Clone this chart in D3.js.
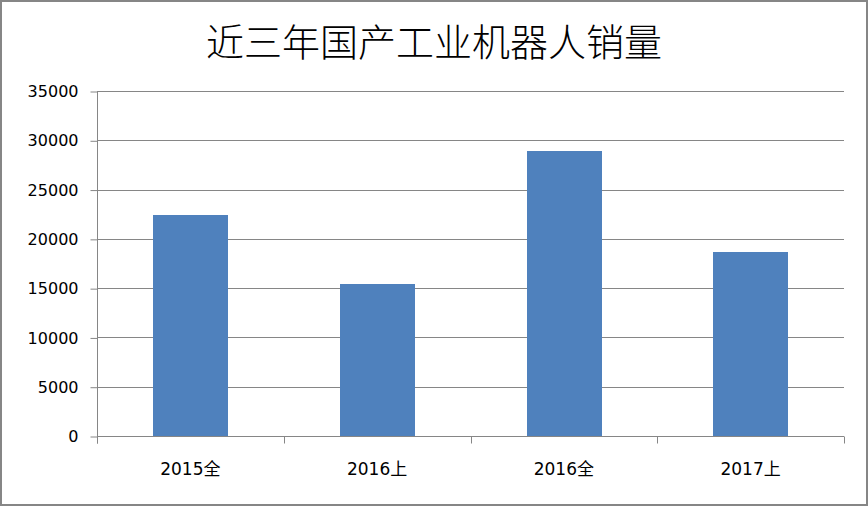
<!DOCTYPE html>
<html><head><meta charset="utf-8">
<script src="https://cdn.jsdelivr.net/npm/d3@7/dist/d3.min.js"></script>
<style>html,body{margin:0;padding:0;background:#fff;}svg{display:block;}</style>
</head><body>
<svg id="c" width="868" height="506"></svg>
<script>
const title = "近三年国产工业机器人销量";
const categories = ["2015全", "2016上", "2016全", "2017上"];
const sales = [22400, 15400, 28900, 18650];
const yTicks = [0, 5000, 10000, 15000, 20000, 25000, 30000, 35000];

const W = 868, H = 506;
const m = {left: 97, right: 844, top: 91, bottom: 436};
const svg = d3.select("#c");
svg.append("rect").attr("x", 1).attr("y", 1).attr("width", W - 2).attr("height", H - 2)
  .attr("fill", "#fff").attr("stroke", "#868686").attr("stroke-width", 2);

const x = d3.scaleBand().domain(categories).range([m.left, m.right]).padding(0);
const y = d3.scaleLinear().domain([0, 35000]).range([m.bottom, m.top]);
const grid = "#868686";

// gridlines
svg.append("g").selectAll("line").data(yTicks.filter(d => d > 0)).join("line")
  .attr("x1", m.left).attr("x2", m.right)
  .attr("y1", d => Math.round(y(d)) + 0.5).attr("y2", d => Math.round(y(d)) + 0.5)
  .attr("stroke", grid).attr("stroke-width", 1);

// bars
const barW = x.bandwidth() * 0.4;
svg.append("g").selectAll("rect").data(sales).join("rect")
  .attr("x", (d, i) => Math.round(x(categories[i]) + (x.bandwidth() - barW) / 2))
  .attr("width", Math.round(barW))
  .attr("y", d => Math.round(y(d)))
  .attr("height", d => Math.round(y(0)) - Math.round(y(d)))
  .attr("fill", "#4F81BD");

// y axis
const yAxis = d3.axisLeft(y).tickValues(yTicks).tickSize(7).tickPadding(12).tickFormat(d3.format("d"));
const gy = svg.append("g").attr("transform", `translate(${m.left + 0.5},0.5)`).call(yAxis);
gy.select(".domain").attr("stroke", grid).attr("d", `M0,${m.top}V${m.bottom + 7}`);
gy.selectAll(".tick line").attr("stroke", grid);
gy.selectAll(".tick text").attr("font-family", "DejaVu Sans, Verdana, sans-serif")
  .attr("font-size", 16).attr("fill", "#000");

// x axis
const gx = svg.append("g").attr("transform", `translate(0,${Math.round(y(0)) + 0.5})`);
gx.append("line").attr("x1", m.left).attr("x2", m.right).attr("stroke", grid);
const bounds = categories.map(c => x(c)).concat([m.right]);
gx.selectAll("line.t").data(bounds).join("line").attr("class", "t")
  .attr("x1", d => Math.round(d) + 0.5).attr("x2", d => Math.round(d) + 0.5)
  .attr("y1", 0).attr("y2", 7).attr("stroke", grid);
gx.selectAll("text").data(categories).join("text")
  .attr("x", d => x(d) + x.bandwidth() / 2).attr("y", 33)
  .attr("dy", "0.35em").attr("text-anchor", "middle")
  .attr("font-family", "DejaVu Sans, 'Noto Sans CJK SC', sans-serif")
  .attr("font-size", 17).attr("fill", "#000").text(d => d);

// title
svg.append("text").attr("x", 434).attr("y", 43).attr("dy", "0.35em")
  .attr("text-anchor", "middle").attr("font-family", "'Noto Sans CJK SC', sans-serif")
  .attr("font-size", 38).attr("font-weight", 300).attr("fill", "#000").text(title);
</script>
</body></html>
